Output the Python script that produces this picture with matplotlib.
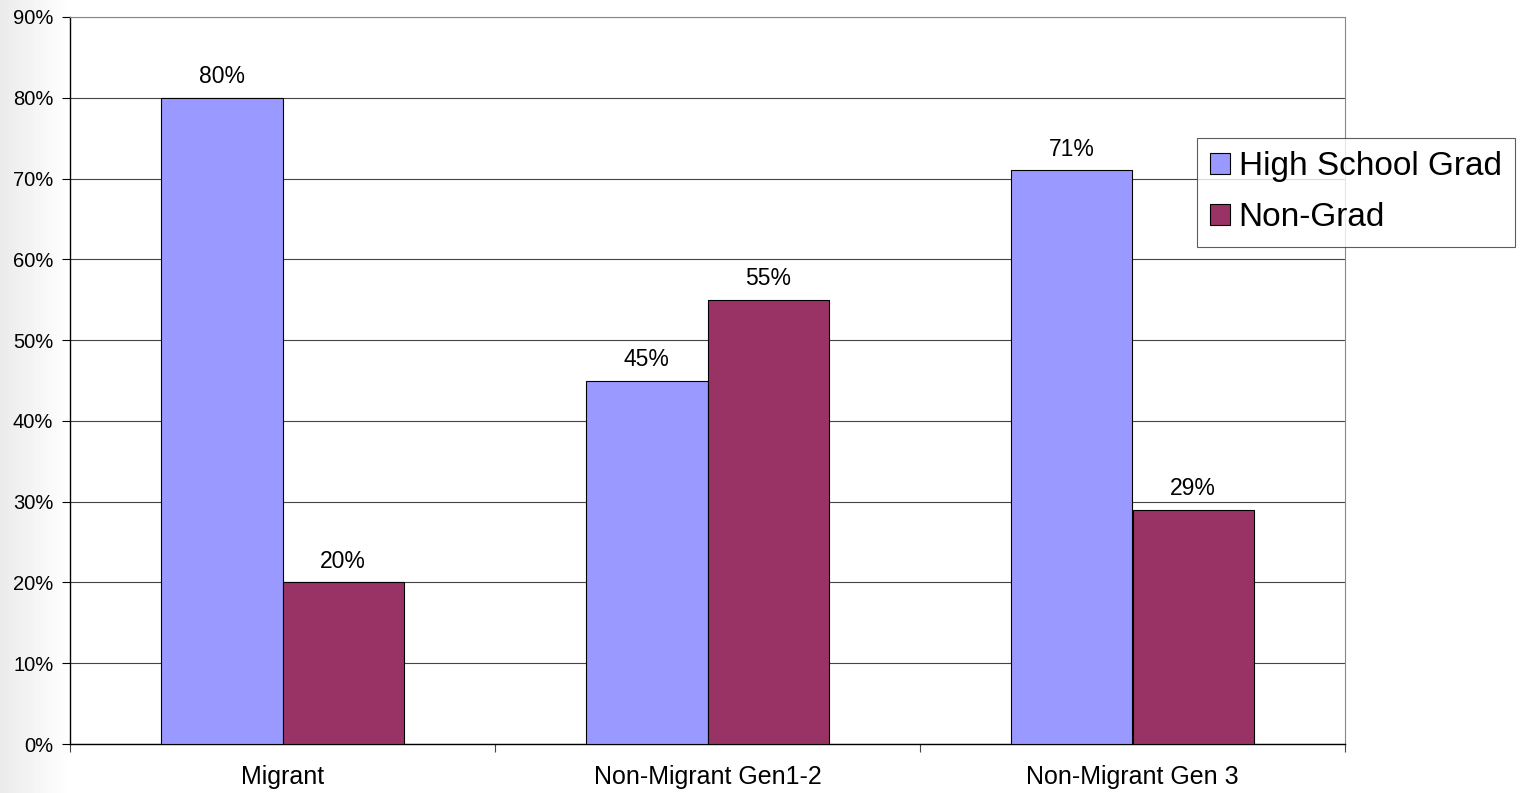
import matplotlib.pyplot as plt
import numpy as np

categories = ['Migrant', 'Non-Migrant Gen1-2', 'Non-Migrant Gen 3']
grad = [80, 45, 71]
non_grad = [20, 55, 29]
series_names = ['High School Grad', 'Non-Grad']
yticks = list(range(0, 100, 10))

plt.rcParams['font.family'] = ['Liberation Sans', 'DejaVu Sans']

W, H = 1532, 793
fig = plt.figure(figsize=(W / 100, H / 100), dpi=100)

# faint grey shading on the left edge
bg = fig.add_axes([0, 0, 1, 1], zorder=-10)
xs = np.linspace(0, 1, W)
shade = 1 - 0.08 * np.clip(1 - xs * W / 70, 0, 1)
bg.imshow(np.tile(shade, (2, 1)), cmap='gray', vmin=0, vmax=1, aspect='auto',
          extent=[0, 1, 0, 1])
bg.axis('off')

ax = fig.add_axes([70 / W, 1 - 744 / H, 1275 / W, 727 / H])
x = np.arange(len(categories))
w = 0.285
b1 = ax.bar(x - w / 2, grad, w, color='#9999FF', edgecolor='black', lw=0.8,
            label=series_names[0], zorder=3)
b2 = ax.bar(x + w / 2, non_grad, w, color='#993366', edgecolor='black', lw=0.8,
            label=series_names[1], zorder=3)

for bars in (b1, b2):
    for r in bars:
        ax.annotate(f"{r.get_height():.0f}%", (r.get_x() + r.get_width() / 2, r.get_height()),
                    xytext=(0, 7), textcoords='offset points', ha='center', va='bottom',
                    fontsize=16.5)

ax.set_xlim(-0.5, 2.5)
ax.set_ylim(0, 90)
ax.set_yticks(yticks)
ax.set_yticklabels([f"{v}%" for v in yticks], fontsize=14.5)
ax.yaxis.grid(True, color='#444444', lw=0.8, zorder=0)
ax.tick_params(axis='y', length=6, width=0.8, pad=6)

ax.set_xticks(x)
ax.set_xticklabels(categories, fontsize=18)
ax.set_xticks([-0.5, 0.5, 1.5, 2.5], minor=True)
ax.tick_params(axis='x', which='major', length=0, pad=15)
ax.tick_params(axis='x', which='minor', length=6, width=0.8, color='#444444')

for s in ('top', 'right'):
    ax.spines[s].set_color('#888888')
    ax.spines[s].set_linewidth(0.8)
for s in ('left', 'bottom'):
    ax.spines[s].set_color('black')
    ax.spines[s].set_linewidth(1.0)

leg = fig.legend(loc='upper left', bbox_to_anchor=(1197 / W, 1 - 138 / H),
                 fontsize=24, frameon=True, fancybox=False, shadow=False,
                 handlelength=0.6, handleheight=0.6, handletextpad=0.25,
                 borderpad=0.4, labelspacing=0.6, borderaxespad=0)
leg.get_frame().set_edgecolor('#333333')
leg.get_frame().set_linewidth(0.8)

fig.savefig('out.png', dpi=100)
